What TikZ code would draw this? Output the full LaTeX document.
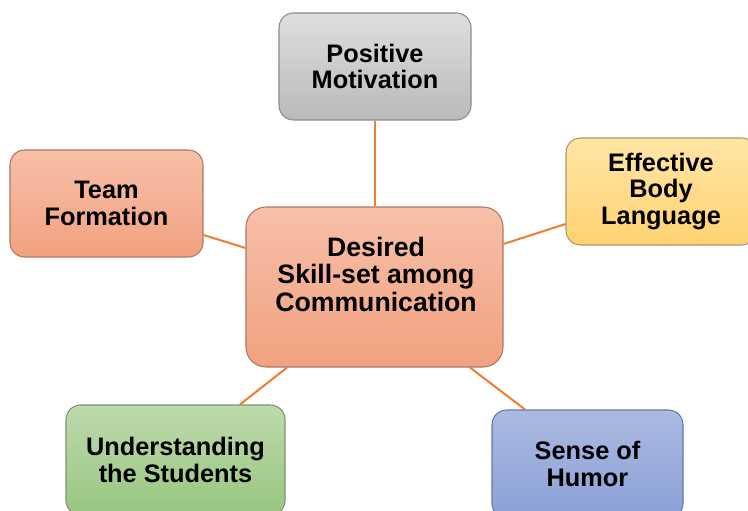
\documentclass[tikz,border=0pt]{standalone}
\usepackage{fontspec}
\setmainfont{Liberation Sans}
\begin{document}
\begin{tikzpicture}[x=0.75pt,y=-0.75pt,
  box/.style={rectangle, rounded corners=11pt, line width=0.8pt,
    align=center, inner sep=0pt,
    font=\bfseries\fontsize{19}{20}\selectfont},
  graybox/.style={box, top color=grayT, bottom color=grayB, draw=grayD},
  salmonbox/.style={box, top color=salT, bottom color=salB, draw=salD},
  yellowbox/.style={box, top color=yelT, bottom color=yelB, draw=yelD},
  greenbox/.style={box, top color=grnT, bottom color=grnB, draw=grnD},
  bluebox/.style={box, top color=bluT, bottom color=bluB, draw=bluD},
  link/.style={draw=linkorange, line width=1.5pt}]
\definecolor{grayT}{RGB}{222,222,222}
\definecolor{grayB}{RGB}{186,186,186}
\definecolor{grayD}{RGB}{140,140,140}
\definecolor{salT}{RGB}{247,192,168}
\definecolor{salB}{RGB}{241,161,128}
\definecolor{salD}{RGB}{170,120,100}
\definecolor{yelT}{RGB}{255,230,165}
\definecolor{yelB}{RGB}{255,210,115}
\definecolor{yelD}{RGB}{175,150,100}
\definecolor{grnT}{RGB}{190,218,172}
\definecolor{grnB}{RGB}{152,198,128}
\definecolor{grnD}{RGB}{120,150,105}
\definecolor{bluT}{RGB}{172,186,226}
\definecolor{bluB}{RGB}{138,160,214}
\definecolor{bluD}{RGB}{105,120,160}
\definecolor{linkorange}{RGB}{237,125,49}

\useasboundingbox (0,0) rectangle (748,510);
\clip (0,0) rectangle (748,510);

% centre hub
\node[salmonbox, rounded corners=15pt, minimum width=192.75pt, minimum height=120pt]
  (c) at (374.5,287) {};
\node[font=\bfseries\fontsize{20}{20.6}\selectfont, align=center] (ct) at (376,274)
  {Desired\\Skill-set among\\Communication};

% surrounding skills
\node[graybox, minimum width=144pt, minimum height=80.25pt] (pm) at (375,66.5)
  {Positive\\Motivation};
\node[salmonbox, minimum width=144.75pt, minimum height=80.25pt] (tf) at (106.5,203.5)
  {Team\\Formation};
\node[yellowbox, minimum width=142.5pt, minimum height=80.25pt] (ebl) at (661,191.5)
  {Effective\\Body\\Language};
\node[greenbox, minimum width=164.25pt, minimum height=82.5pt] (us) at (175.5,460)
  {Understanding\\the Students};
\node[bluebox, minimum width=143.25pt, minimum height=81pt] (sh) at (587.5,464)
  {Sense of\\Humor};

% connectors
\draw[link] (pm.south) -- (c.north -| pm.south);
\draw[link] (tf.east |- 0,235) -- (c.west |- 0,248);
\draw[link] (c.east |- 0,244) -- (ebl.west |- 0,224);
\draw[link] (c.south -| 287,0) -- (us.north -| 240,0);
\draw[link] (c.south -| 470,0) -- (sh.north -| 525,0);
\end{tikzpicture}
\end{document}
